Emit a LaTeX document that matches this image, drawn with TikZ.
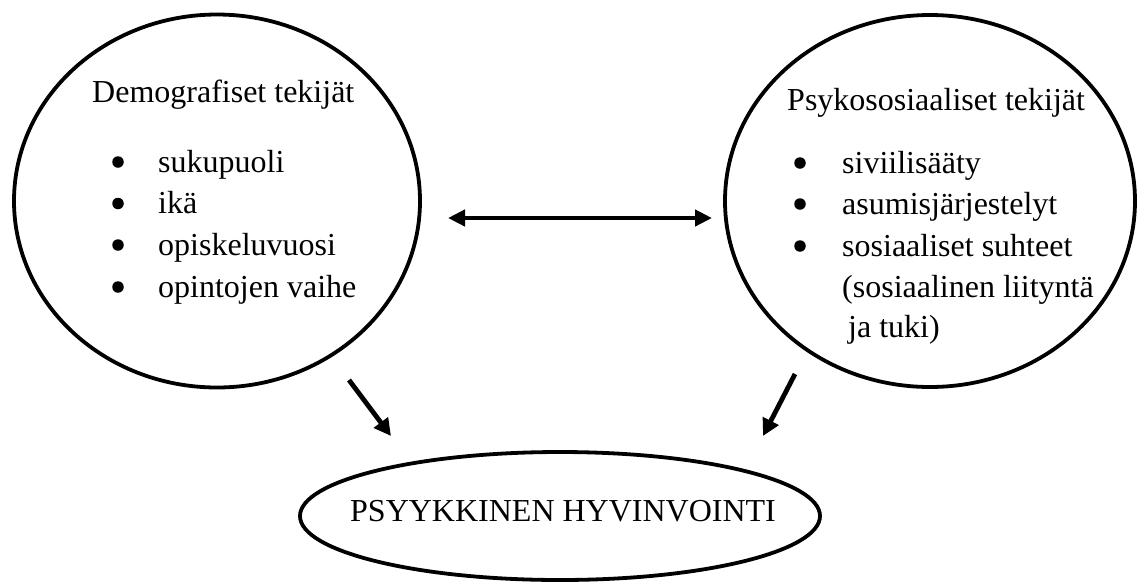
\documentclass[tikz,border=0pt]{standalone}
\usepackage{fontspec}
\setmainfont{Liberation Serif}
\usetikzlibrary{shapes.geometric,arrows.meta}
\begin{document}
\begin{tikzpicture}[x=1pt,y=-1pt,
  bubble/.style={ellipse, draw, line width=3.8pt, inner sep=0pt},
  lbl/.style={anchor=base west, inner sep=0pt, font=\fontsize{32}{40}\selectfont},
  bul/.style={circle, fill, inner sep=0pt, minimum size=11.5pt},
  link/.style={line width=4.8pt, -{Triangle[length=17pt,width=17pt]}},
  biglink/.style={line width=4.8pt, {Triangle[length=17pt,width=16pt]}-{Triangle[length=17pt,width=16pt]}}]
\useasboundingbox (0,0) rectangle (1137,582);
% ellipses
\node[bubble, minimum width=406pt, minimum height=373pt] (L) at (217,201) {};
\node[bubble, minimum width=410pt, minimum height=372pt] (R) at (930,201) {};
\node[bubble, minimum width=520pt, minimum height=128pt] (B) at (560,516) {};
% left texts
\node[lbl] (lt) at (92,102) {Demografiset tekijät};
\node[bul] (lb1) at (118,162) {};
\node[lbl] (l1) at (158,172) {sukupuoli};
\node[bul] (lb2) at (118,203.5) {};
\node[lbl] (l2) at (158,213.5) {ikä};
\node[bul] (lb3) at (118,245) {};
\node[lbl] (l3) at (158,255) {opiskeluvuosi};
\node[bul] (lb4) at (118,287) {};
\node[lbl] (l4) at (158,297) {opintojen vaihe};
% right texts
\node[lbl] (rt) at (787,110) {Psykososiaaliset tekijät};
\node[bul] (rb1) at (800,163) {};
\node[lbl] (r1) at (842,173) {siviilisääty};
\node[bul] (rb2) at (800,204) {};
\node[lbl] (r2) at (842,214) {asumisjärjestelyt};
\node[bul] (rb3) at (800,246) {};
\node[lbl] (r3) at (842,256) {sosiaaliset suhteet};
\node[lbl] (r4) at (842,297) {(sosiaalinen liityntä};
\node[lbl] (r5) at (848,337) {ja tuki)};
% bottom text
\node[lbl] (bt) at (350,521) {PSYYKKINEN HYVINVOINTI};
% arrows
\coordinate (h1) at (448,218);
\coordinate (h2) at (712,218);
\coordinate (d1s) at (349,380);
\coordinate (d1e) at (391,436);
\coordinate (d2s) at (795,374);
\coordinate (d2e) at (763,436);
\draw[biglink] (h1) -- (h2);
\draw[link] (d1s) -- (d1e);
\draw[link] (d2s) -- (d2e);
\end{tikzpicture}
\end{document}
